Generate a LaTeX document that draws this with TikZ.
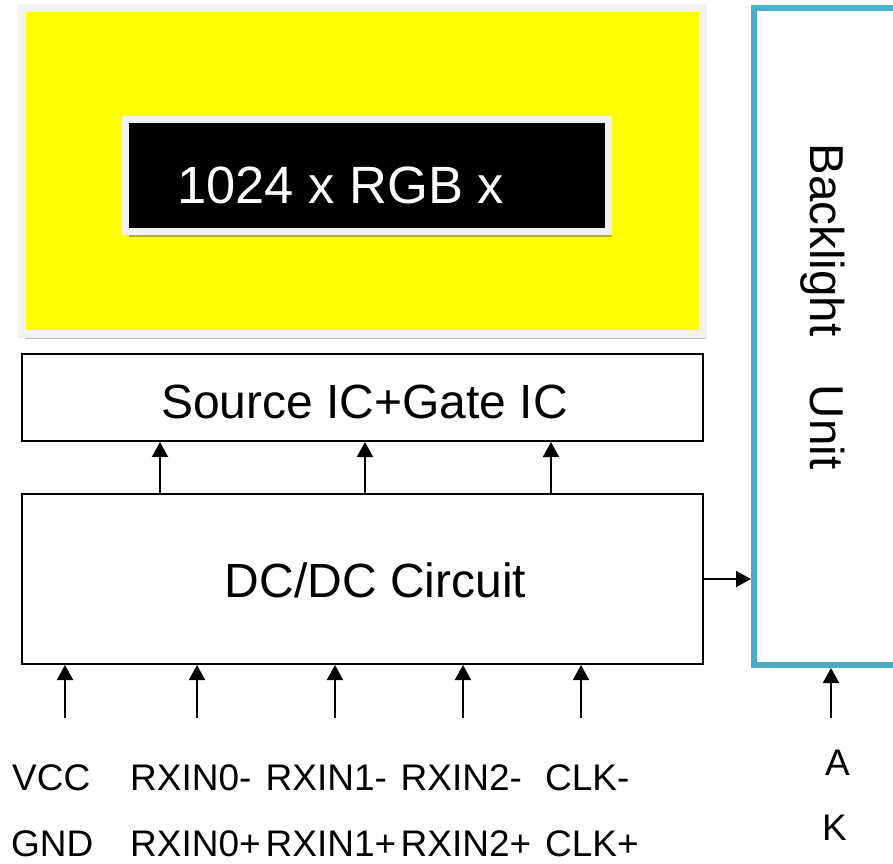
\documentclass[tikz,border=0pt]{standalone}
\usepackage{fontspec}
\setmainfont{Liberation Sans}
\usetikzlibrary{arrows.meta,shadows}
\definecolor{teal1}{HTML}{4BACC6}
\definecolor{frame}{HTML}{F2F2F2}
\definecolor{yel}{RGB}{255,255,0}
\begin{document}
\begin{tikzpicture}[x=1pt,y=-1pt,
  box/.style={draw=black, line width=2pt, fill=white, inner sep=0pt},
  arr/.style={line width=2pt, -{Triangle[length=15pt,width=16pt]}},
  lbl/.style={anchor=base west, inner sep=0pt, font=\fontsize{37}{40}\selectfont},
  big/.style={inner sep=0pt, font=\fontsize{48}{52}\selectfont}]
\useasboundingbox (0,0) rectangle (893,863);
\clip (0,0) rectangle (893,863);
% LCD panel
\node (panel) [fill=yel, draw=frame, line width=8pt, minimum width=681pt, minimum height=326pt, inner sep=0pt,
  drop shadow={shadow xshift=3pt, shadow yshift=-5pt, opacity=0.25, fill=black}] at (362.5,171) {};
\node (res) [fill=black, draw=frame, line width=7pt, minimum width=483pt, minimum height=112pt, inner sep=0pt,
  drop shadow={shadow xshift=3pt, shadow yshift=-5pt, opacity=0.3, fill=black}] at (367,175.5) {};
\node (restext) [anchor=base west, inner sep=0pt, text=white, font=\fontsize{52.5}{58}\selectfont] at (177,203) {1024 x RGB x};
% boxes
\node (src) [box, minimum width=681pt, minimum height=87pt] at (362.5,397.5) {};
\node (srctext) [big, anchor=base] at (364.5,418) {Source IC+Gate IC};
\node (dc) [box, minimum width=681pt, minimum height=170pt] at (362.5,579) {};
\node (dctext) [big, anchor=base] at (375.5,597) {DC/DC Circuit};
\node (bl) [draw=teal1, line width=6pt, fill=white, minimum width=150pt, minimum height=657pt, inner sep=0pt] at (829,336.5) {};
\node (bltext1) [big, font=\fontsize{47.5}{52}\selectfont, anchor=base, rotate=-90] at (810,240) {Backlight};
\node (bltext2) [big, font=\fontsize{47.5}{52}\selectfont, anchor=base, rotate=-90] at (810,427) {Unit};
% DC -> source arrows
\foreach \x [count=\i] in {160,365,551} {
  \coordinate (s\i) at (\x,0);
  \draw[arr] (dc.north -| s\i) -- (src.south -| s\i);
}
% input arrows
\foreach \x [count=\i] in {65,197,335,463,581} {
  \coordinate (in\i) at (\x,718);
  \draw[arr] (in\i) -- (dc.south -| in\i);
}
\coordinate (ina) at (831,718);
\draw[arr] (ina) -- (bl.south -| ina);
\coordinate (dcout) at (0,579);
\draw[arr] (dc.east |- dcout) -- (bl.west |- dcout);
% labels
\node (lvcc) [lbl] at (12,790) {VCC};
\node (lgnd) [lbl] at (11,856) {GND};
\node (lr0m) [lbl] at (130,790) {RXIN0-};
\node (lr0p) [lbl] at (130,856) {RXIN0+};
\node (lr1m) [lbl] at (265.5,790) {RXIN1-};
\node (lr1p) [lbl] at (265.5,856) {RXIN1+};
\node (lr2m) [lbl] at (400.5,790) {RXIN2-};
\node (lr2p) [lbl] at (400.5,856) {RXIN2+};
\node (lclkm) [lbl] at (545,790) {CLK-};
\node (lclkp) [lbl] at (545,856) {CLK+};
\node (la) [lbl] at (825,775) {A};
\node (lk) [lbl] at (822,840) {K};
\end{tikzpicture}
\end{document}
